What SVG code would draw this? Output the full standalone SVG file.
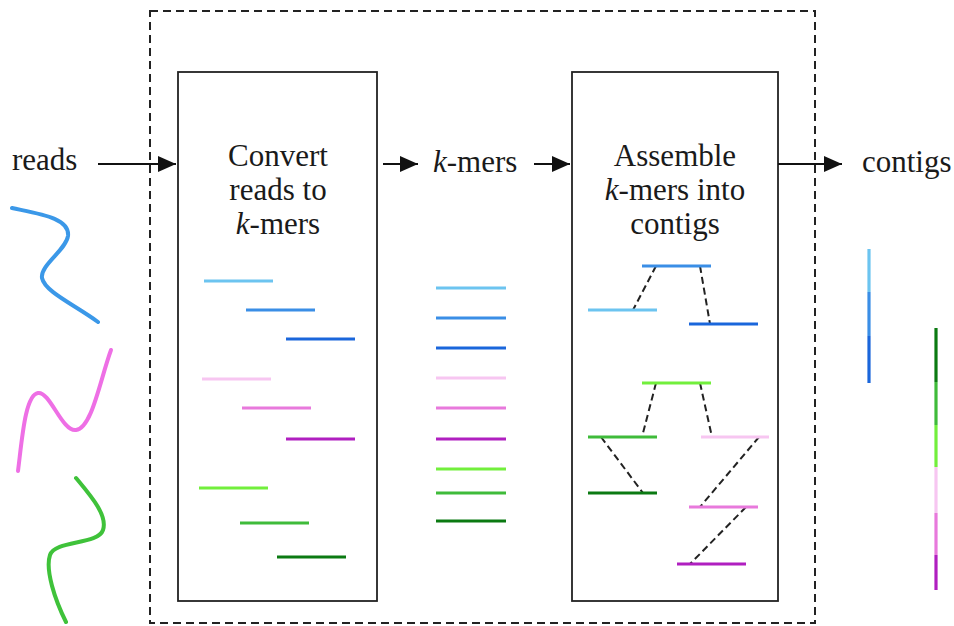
<svg xmlns="http://www.w3.org/2000/svg" width="954" height="626" viewBox="0 0 954 626">
  <style>
    .lbl { font-family: "Liberation Serif", "Times New Roman", serif; font-size: 31px; fill: #1a1a1a; }
    .mid { text-anchor: middle; }
    .box { fill: none; stroke: #222; stroke-width: 1.8; }
    .frame { fill: none; stroke: #222; stroke-width: 2; stroke-dasharray: 8 5; }
    .arrow { stroke: #111; stroke-width: 1.8; fill: none; marker-end: url(#head); }
    .km { stroke-width: 3.2; stroke-linecap: butt; }
    .link { stroke: #222; stroke-width: 2; stroke-dasharray: 7 4; fill: none; }
    .read { fill: none; stroke-width: 4; stroke-linecap: round; }
    .c1 { stroke: #6cc4f0; } .c2 { stroke: #3a8ee6; } .c3 { stroke: #1a66db; }
    .p1 { stroke: #f7c6f1; } .p2 { stroke: #e879dc; } .p3 { stroke: #b01fc0; }
    .g1 { stroke: #72ef3c; } .g2 { stroke: #3fbb3a; } .g3 { stroke: #0b7a12; }
  </style>
  <defs>
    <marker id="head" viewBox="0 0 18 16" refX="18" refY="8" markerWidth="18" markerHeight="16" markerUnits="userSpaceOnUse" orient="auto">
      <path d="M0,0 L18,8 L0,16 Z" fill="#111"/>
    </marker>
  </defs>
  <rect width="954" height="626" fill="#ffffff"/>

  <!-- pipeline frame -->
  <rect id="pipeline" class="frame" x="150" y="11" width="665" height="612"/>

  <!-- input reads -->
  <g id="reads">
    <text class="lbl" x="12" y="170">reads</text>
    <path class="read" stroke="#3b98e8" d="M12,208 C40,214 70,218 68,236 C66,250 40,265 42,278 C45,292 75,305 98,322"/>
    <path class="read" stroke="#ee6fe5" d="M18,471 C22,440 25,395 38,393 C50,391 62,432 76,430 C92,428 100,380 111,350"/>
    <path class="read" stroke="#3fc23a" d="M76,478 C90,495 108,515 103,530 C98,545 55,540 50,555 C45,570 55,600 66,622"/>
  </g>

  <!-- step 1: convert reads to k-mers -->
  <g id="convert">
    <rect class="box" x="178" y="72" width="199" height="529"/>
    <text class="lbl mid" x="278" y="166">Convert</text>
    <text class="lbl mid" x="278" y="200">reads to</text>
    <text class="lbl mid" x="278" y="234"><tspan font-style="italic">k</tspan>-mers</text>
    <line class="km c1" x1="204" y1="281" x2="273" y2="281"/>
    <line class="km c2" x1="246" y1="310" x2="315" y2="310"/>
    <line class="km c3" x1="286" y1="339" x2="355" y2="339"/>
    <line class="km p1" x1="202" y1="379" x2="271" y2="379"/>
    <line class="km p2" x1="242" y1="408" x2="311" y2="408"/>
    <line class="km p3" x1="286" y1="439" x2="355" y2="439"/>
    <line class="km g1" x1="199" y1="488" x2="268" y2="488"/>
    <line class="km g2" x1="240" y1="523" x2="309" y2="523"/>
    <line class="km g3" x1="277" y1="557" x2="346" y2="557"/>
  </g>

  <!-- intermediate k-mers -->
  <g id="kmers">
    <text class="lbl" x="433" y="172"><tspan font-style="italic">k</tspan>-mers</text>
    <line class="km c1" x1="436" y1="288" x2="506" y2="288"/>
    <line class="km c2" x1="436" y1="318" x2="506" y2="318"/>
    <line class="km c3" x1="436" y1="348" x2="506" y2="348"/>
    <line class="km p1" x1="436" y1="378" x2="506" y2="378"/>
    <line class="km p2" x1="436" y1="408" x2="506" y2="408"/>
    <line class="km p3" x1="436" y1="439" x2="506" y2="439"/>
    <line class="km g1" x1="436" y1="469" x2="506" y2="469"/>
    <line class="km g2" x1="436" y1="493" x2="506" y2="493"/>
    <line class="km g3" x1="436" y1="521" x2="506" y2="521"/>
  </g>

  <!-- step 2: assemble k-mers into contigs -->
  <g id="assemble">
    <rect class="box" x="572" y="72" width="206" height="529"/>
    <text class="lbl mid" x="675" y="166">Assemble</text>
    <text class="lbl mid" x="675" y="200"><tspan font-style="italic">k</tspan>-mers into</text>
    <text class="lbl mid" x="675" y="234">contigs</text>
    <path class="link" d="M656,266 L633,310 M700,266 L710,324 M656,383 L642,437 M700,383 L712,437 M601,437 L643,493 M759,437 L700,507 M746,507 L690,564"/>
    <line class="km c2" x1="642" y1="266" x2="711" y2="266"/>
    <line class="km c1" x1="588" y1="310" x2="657" y2="310"/>
    <line class="km c3" x1="689" y1="324" x2="758" y2="324"/>
    <line class="km g1" x1="642" y1="383" x2="711" y2="383"/>
    <line class="km g2" x1="588" y1="437" x2="657" y2="437"/>
    <line class="km p1" x1="701" y1="437" x2="769" y2="437"/>
    <line class="km g3" x1="588" y1="493" x2="657" y2="493"/>
    <line class="km p2" x1="689" y1="507" x2="758" y2="507"/>
    <line class="km p3" x1="677" y1="564" x2="746" y2="564"/>
  </g>

  <!-- output contigs -->
  <g id="contigs">
    <text class="lbl" x="862" y="172">contigs</text>
    <line class="km c1" x1="869" y1="249" x2="869" y2="292"/>
    <line class="km c2" x1="869" y1="292" x2="869" y2="336"/>
    <line class="km c3" x1="869" y1="336" x2="869" y2="383"/>
    <line class="km g3" x1="936" y1="328" x2="936" y2="382"/>
    <line class="km g2" x1="936" y1="382" x2="936" y2="425"/>
    <line class="km g1" x1="936" y1="425" x2="936" y2="467"/>
    <line class="km p1" x1="936" y1="467" x2="936" y2="513"/>
    <line class="km p2" x1="936" y1="513" x2="936" y2="555"/>
    <line class="km p3" x1="936" y1="555" x2="936" y2="590"/>
  </g>

  <!-- connectors -->
  <g id="connectors">
    <line class="arrow" x1="98" y1="164" x2="176" y2="164"/>
    <line class="arrow" x1="383" y1="164" x2="418" y2="164"/>
    <line class="arrow" x1="534" y1="164" x2="570" y2="164"/>
    <line class="arrow" x1="778" y1="164" x2="842" y2="164"/>
  </g>
</svg>
